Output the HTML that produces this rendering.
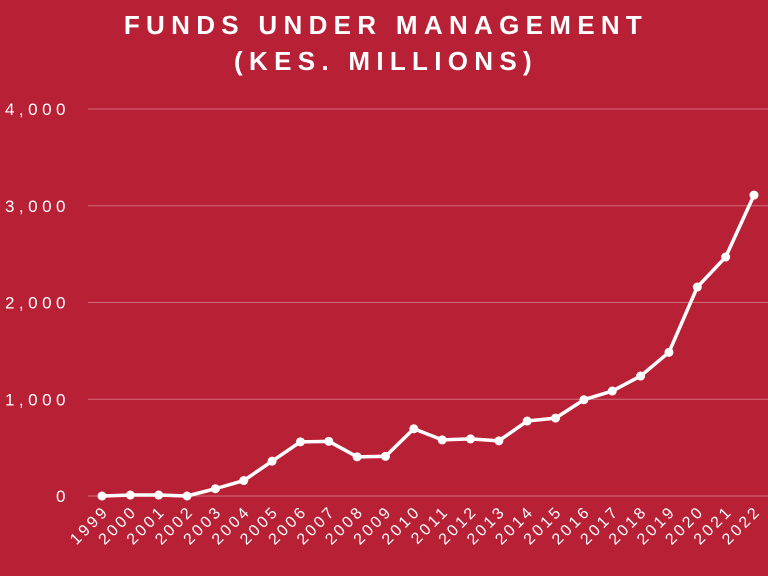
<!DOCTYPE html>
<html><head><meta charset="utf-8"><style>
html,body{margin:0;padding:0;background:#b82035;}
svg{display:block;font-family:"Liberation Sans",sans-serif;}
</style></head><body>
<svg id="chart" width="768" height="576" viewBox="0 0 768 576">
<rect width="768" height="576" fill="#b82035"/>
<text x="386" y="34" text-anchor="middle" fill="#fff" font-size="26" font-weight="bold" letter-spacing="6.3">FUNDS UNDER MANAGEMENT</text>
<text x="386" y="70" text-anchor="middle" fill="#fff" font-size="26" font-weight="bold" letter-spacing="6.3">(KES. MILLIONS)</text>
<g id="grid"></g><g id="ylabels"></g><g id="xlabels"></g><g id="series"></g>
</svg>
<script>
const years = ["1999","2000","2001","2002","2003","2004","2005","2006","2007","2008","2009","2010","2011","2012","2013","2014","2015","2016","2017","2018","2019","2020","2021","2022"];
const funds = [0,10,10,0,75,160,360,560,565,405,410,695,580,590,570,775,805,995,1085,1240,1485,2160,2470,3110];
const yTicks = [0,1000,2000,3000,4000];
const yTickLabels = ["0","1,000","2,000","3,000","4,000"];
const NS="http://www.w3.org/2000/svg";
function y(v){return 496 - v*(387/4000);}
function x(i){return 102 + i*(652/(years.length-1));}
function mk(t,a,p){const e=document.createElementNS(NS,t);for(const k in a)e.setAttribute(k,a[k]);p.appendChild(e);return e;}
const grid=document.getElementById('grid'),yl=document.getElementById('ylabels'),xl=document.getElementById('xlabels'),se=document.getElementById('series');
yTicks.forEach((v,i)=>{
  const l=mk('line',{x1:88,x2:768,y1:y(v),y2:y(v),stroke:'rgba(255,255,255,0.35)','stroke-width':1},grid);
  
  
  const t=mk('text',{x:70,y:y(v)+6,'text-anchor':'end',fill:'#fff','font-size':17,'letter-spacing':4.5},yl);
  t.textContent=yTickLabels[i];
  
  
});
years.forEach((yr,i)=>{
  const t=mk('text',{x:x(i)+8,y:512,'text-anchor':'end',fill:'#fff','font-size':16,'letter-spacing':3,transform:`rotate(-45 ${x(i)+8} 512)`},xl);
  t.textContent=yr;
  
  
});
const pts=funds.map((v,i)=>x(i)+','+y(v)).join(' ');
const pl=mk('polyline',{points:pts,fill:'none',stroke:'#fff','stroke-width':3.5,'stroke-linejoin':'round'},se);


funds.forEach((v,i)=>{
  const c=mk('circle',{cx:x(i),cy:y(v),r:4.5,fill:'#fff'},se);
  
  
});
</script>
</body></html>
